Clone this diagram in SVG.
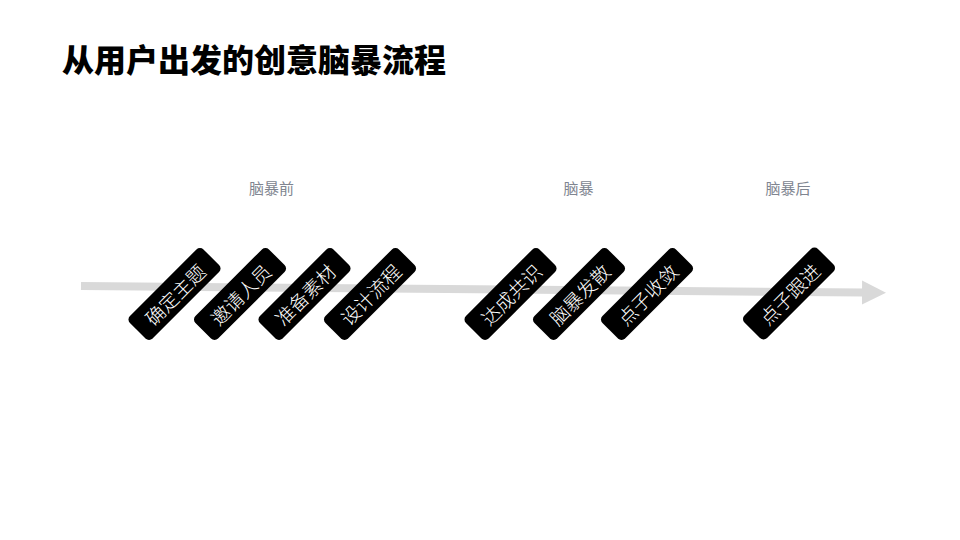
<svg xmlns="http://www.w3.org/2000/svg" width="960" height="540" viewBox="0 0 960 540">
<defs>
<style>
.title{font-family:"Noto Sans CJK SC","Noto Sans",sans-serif;font-weight:900;font-size:32px;fill:#000}
.phase{font-family:"Noto Sans CJK SC","Noto Sans",sans-serif;font-size:15px;fill:#808590;text-anchor:middle}
.box{fill:#000}
.lbl{font-family:"Noto Sans CJK SC","Noto Sans",sans-serif;font-weight:300;font-size:19px;fill:#fff;text-anchor:middle;dominant-baseline:central}
.axis{stroke:#d9d9d9;stroke-width:8;fill:none}
</style>
<marker id="ah" markerUnits="userSpaceOnUse" markerWidth="26" markerHeight="26" refX="2" refY="12" orient="auto" viewBox="0 0 26 24">
<path d="M0,0 L24,12 L0,24 Z" fill="#d9d9d9"/>
</marker>
</defs>
<rect width="960" height="540" fill="#fff"/>
<text class="title" x="62" y="72">从用户出发的创意脑暴流程</text>
<text class="phase" x="271.5" y="194">脑暴前</text>
<text class="phase" x="578.5" y="194">脑暴</text>
<text class="phase" x="788" y="194">脑暴后</text>
<g id="connectors">
<line class="axis" x1="81" y1="286" x2="864" y2="292.5" marker-end="url(#ah)"/>
</g>
<g id="n1" transform="translate(174.5,294) rotate(-45)"><rect class="box" x="-52" y="-16" width="104" height="32" rx="5"/><text class="lbl" x="0" y="0">确定主题</text></g>
<g id="n2" transform="translate(240,294) rotate(-45)"><rect class="box" x="-52" y="-16" width="104" height="32" rx="5"/><text class="lbl" x="0" y="0">邀请人员</text></g>
<g id="n3" transform="translate(304.5,294) rotate(-45)"><rect class="box" x="-52" y="-16" width="104" height="32" rx="5"/><text class="lbl" x="0" y="0">准备素材</text></g>
<g id="n4" transform="translate(370,294) rotate(-45)"><rect class="box" x="-52" y="-16" width="104" height="32" rx="5"/><text class="lbl" x="0" y="0">设计流程</text></g>
<g id="n5" transform="translate(510.5,294) rotate(-45)"><rect class="box" x="-52" y="-16" width="104" height="32" rx="5"/><text class="lbl" x="0" y="0">达成共识</text></g>
<g id="n6" transform="translate(579,294) rotate(-45)"><rect class="box" x="-52" y="-16" width="104" height="32" rx="5"/><text class="lbl" x="0" y="0">脑暴发散</text></g>
<g id="n7" transform="translate(647,294) rotate(-45)"><rect class="box" x="-52" y="-16" width="104" height="32" rx="5"/><text class="lbl" x="0" y="0">点子收敛</text></g>
<g id="n8" transform="translate(789,293.5) rotate(-45)"><rect class="box" x="-52" y="-16" width="104" height="32" rx="5"/><text class="lbl" x="0" y="0">点子跟进</text></g>
</svg>
